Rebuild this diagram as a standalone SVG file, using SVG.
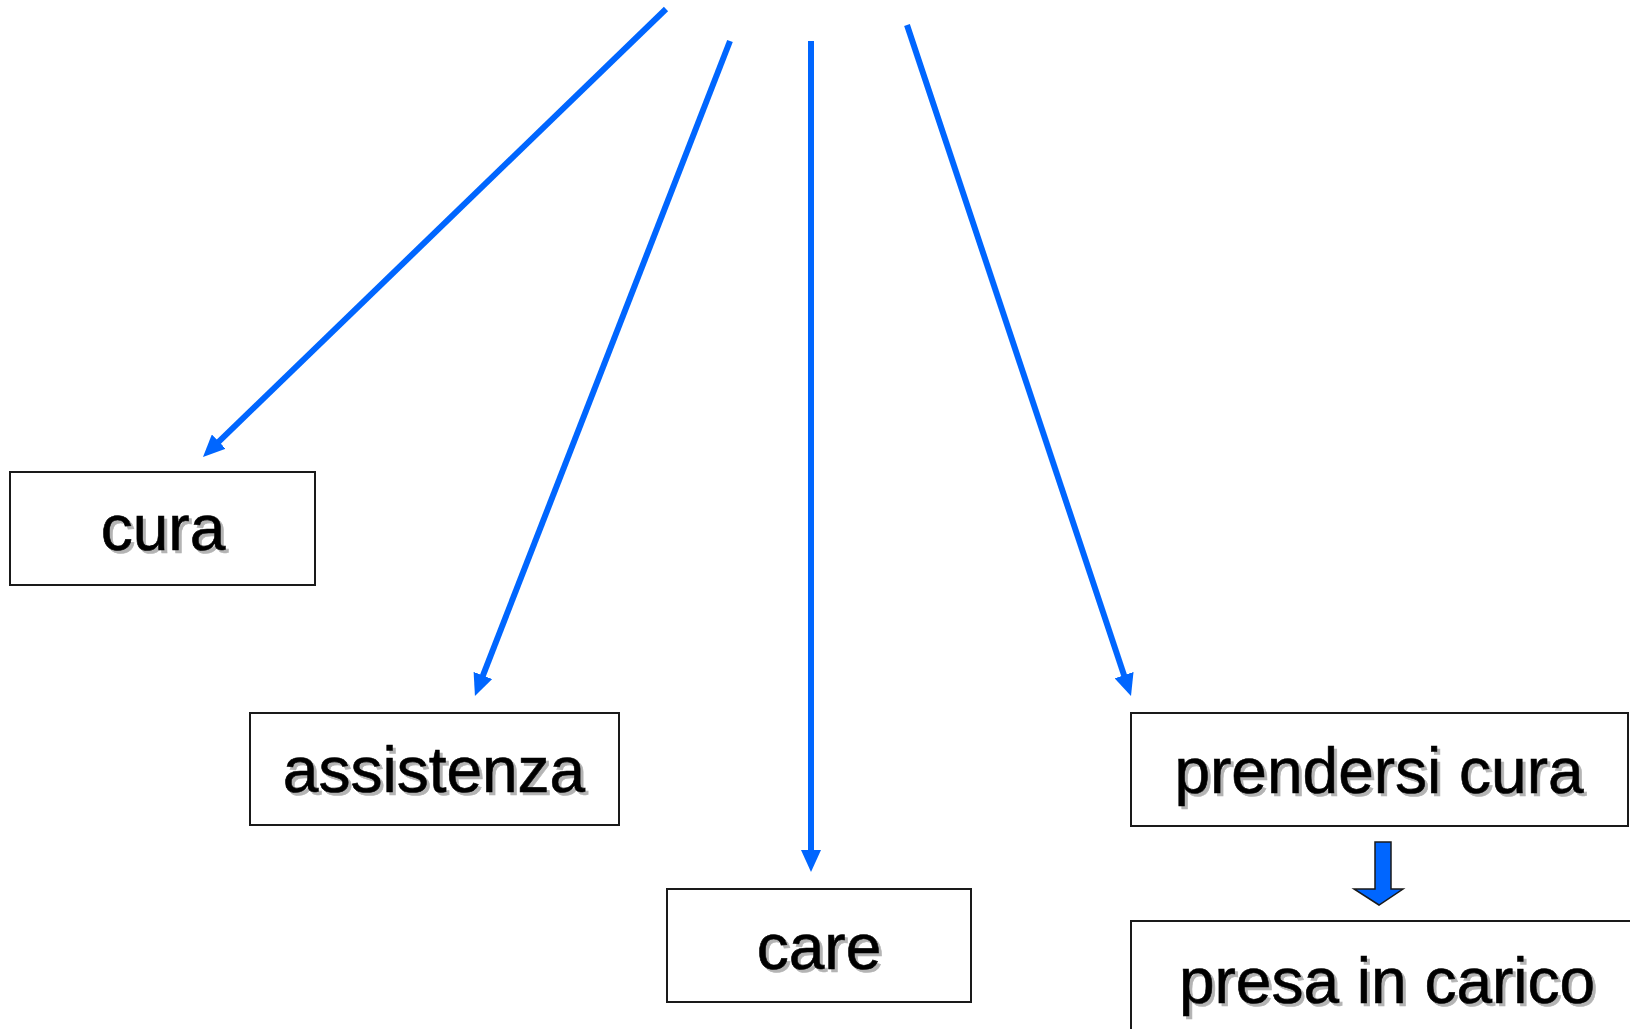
<svg xmlns="http://www.w3.org/2000/svg" width="1630" height="1029" viewBox="0 0 1630 1029">
<style>
.box{fill:#fff;stroke:#1a1a1a;stroke-width:2}
.lbl{font-family:"Liberation Sans",Arial,sans-serif;font-size:64px;text-anchor:middle;fill:#000;stroke:#000;stroke-width:0.6}
.sh{font-family:"Liberation Sans",Arial,sans-serif;font-size:64px;text-anchor:middle;fill:#b4b4b4;stroke:#b4b4b4;stroke-width:0.6}
.con{stroke:#0066ff;stroke-width:6;fill:none;marker-end:url(#ah)}
</style>
<defs>
<marker id="ah" markerUnits="userSpaceOnUse" viewBox="0 0 22 20" markerWidth="22" markerHeight="20" refX="10" refY="10" orient="auto">
<path d="M0,0 L22,10 L0,20 z" fill="#0066ff"/>
</marker>
</defs>
<rect width="1630" height="1029" fill="#fff"/>
<g id="connectors">
<line class="con" x1="666" y1="9" x2="211.6" y2="448.6"/>
<line class="con" x1="730" y1="41" x2="479.3" y2="684.8"/>
<line class="con" x1="811" y1="41" x2="811" y2="860"/>
<line class="con" x1="907" y1="25" x2="1127.2" y2="684.6"/>
<polygon points="1375,842 1391,842 1391,889 1403,889 1379,905 1354,889 1375,889" fill="#0066ff" stroke="#1a1a1a" stroke-width="1.5"/>
</g>
<g id="cura">
<rect class="box" x="10" y="472" width="305" height="113"/>
<text class="sh" x="166" y="553">cura</text>
<text class="lbl" x="163" y="550">cura</text>
</g>
<g id="assistenza">
<rect class="box" x="250" y="713" width="369" height="112"/>
<text class="sh" x="437" y="795">assistenza</text>
<text class="lbl" x="434" y="792">assistenza</text>
</g>
<g id="care">
<rect class="box" x="667" y="889" width="304" height="113"/>
<text class="sh" x="822" y="972">care</text>
<text class="lbl" x="819" y="969">care</text>
</g>
<g id="prendersi">
<rect class="box" x="1131" y="713" width="497" height="113"/>
<text class="sh" x="1382" y="796">prendersi cura</text>
<text class="lbl" x="1379" y="793">prendersi cura</text>
</g>
<g id="presa">
<rect class="box" x="1131" y="921" width="520" height="130"/>
<text class="sh" x="1390" y="1006">presa in carico</text>
<text class="lbl" x="1387" y="1003">presa in carico</text>
</g>
</svg>
